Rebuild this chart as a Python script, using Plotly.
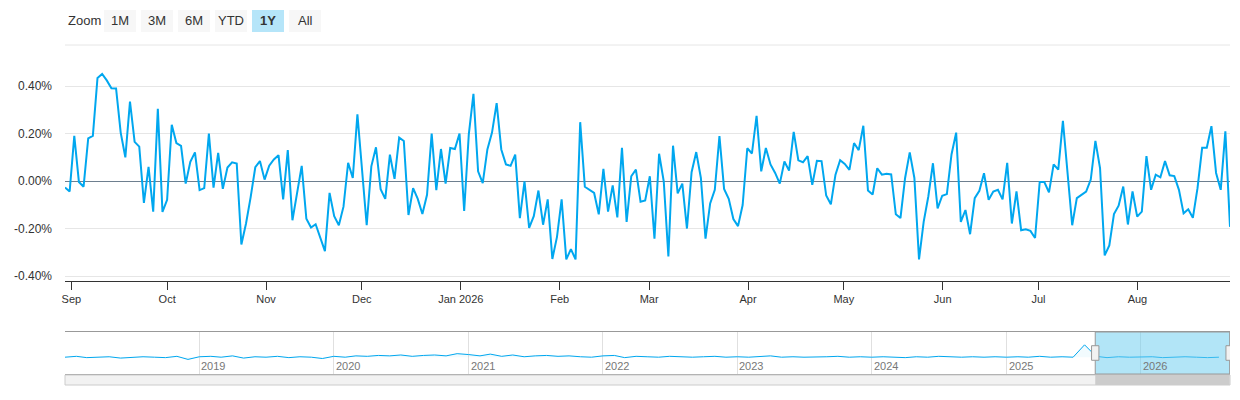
import plotly.graph_objects as go
import pandas as pd

# daily change (%), one year of trading days
values = [
    -0.027, -0.044, 0.19, -0.004, -0.024, 0.18, 0.19, 0.434, 0.451, 0.424, 0.391, 0.39,
    0.204, 0.10, 0.335, 0.165, 0.145, -0.092, 0.06, -0.129, 0.304, -0.13, -0.079, 0.237,
    0.16, 0.148, -0.011, 0.081, 0.121, -0.038, -0.03, 0.20, -0.028, 0.119, -0.033, 0.057,
    0.079, 0.074, -0.267, -0.179, -0.068, 0.058, 0.084, 0.006, 0.065, 0.091, 0.109, -0.077,
    0.13, -0.165, -0.051, 0.064, -0.159, -0.196, -0.182, -0.24, -0.295, -0.05, -0.148, -0.186,
    -0.108, 0.077, 0.013, 0.281,
    0.041, -0.186, 0.062, 0.142, -0.034, -0.075, 0.111, 0.009, 0.183, 0.169, -0.143, -0.03,
    -0.075, -0.139, -0.058, 0.20, -0.038, 0.135, -0.011, 0.139, 0.135, 0.20, -0.126, 0.197,
    0.367, 0.041, -0.009, 0.133, 0.204, 0.328, 0.133, 0.07, 0.064, 0.111, -0.156, -0.001,
    -0.197, -0.148, -0.04, -0.184, -0.077, -0.328, -0.235, -0.077, -0.33, -0.287, -0.33, 0.248,
    -0.024, -0.037, -0.05, -0.14, 0.051, -0.129, -0.018, -0.153, 0.14, -0.172, 0.02, 0.048,
    -0.087, -0.082, 0.02,
    -0.243, 0.115, -0.001, -0.318, 0.149, -0.052, -0.011, -0.2, 0.037, 0.122, 0.013, -0.243,
    -0.094, -0.037, 0.189, -0.033, -0.075, -0.16, -0.19, -0.101, 0.138, 0.116, 0.275, 0.041,
    0.139, 0.07, 0.034, -0.011, 0.082, 0.044, 0.207, 0.087, 0.079, 0.105, -0.016, 0.085,
    0.084, -0.061, -0.098, 0.027, 0.088, 0.072, 0.047, 0.16, 0.13, 0.233, -0.04, -0.057,
    0.054, 0.027, 0.031, 0.028, -0.14, -0.156, 0.013, 0.121, 0.013, -0.33, -0.172, -0.065,
    0.075, -0.115,
    -0.062, -0.055, 0.112, 0.204, -0.172, -0.122, -0.224, -0.072, -0.041, 0.033, -0.079, -0.044,
    -0.037, -0.077, 0.077, -0.179, -0.044, -0.207, -0.203, -0.21, -0.24, -0.004, -0.004, -0.048,
    0.07, 0.048, 0.254, 0.041, -0.186, -0.072, -0.058, -0.044, 0.006, 0.169, 0.055, -0.313,
    -0.271, -0.139, -0.104, -0.023, -0.183, -0.044, -0.15, -0.129, 0.105, -0.037, 0.027, 0.016,
    0.084, 0.024, 0.021, -0.037, -0.136, -0.119, -0.155, -0.03, 0.14, 0.14, 0.231, 0.034,
    -0.037, 0.209, -0.193,
]
dates = pd.date_range("2025-08-30", "2026-08-30", periods=len(values))

month_ticks = ["2025-09-01", "2025-10-01", "2025-11-01", "2025-12-01", "2026-01-01",
               "2026-02-01", "2026-03-01", "2026-04-01", "2026-05-01", "2026-06-01",
               "2026-07-01", "2026-08-01"]
month_labels = ["Sep", "Oct", "Nov", "Dec", "Jan 2026", "Feb", "Mar", "Apr", "May",
                "Jun", "Jul", "Aug"]

# navigator overview (rough monthly readings, %)
nav_dates = pd.date_range("2018-01-01", "2026-08-31", freq="MS")
nav_values = [
    0.0, 0.02, -0.01, 0.0, 0.01, -0.02, 0.0, 0.01, 0.0, -0.01, 0.02, -0.05,
    0.01, 0.02, 0.0, 0.03, -0.02, 0.01, 0.0, 0.02, -0.01, 0.01, 0.0, -0.03,
    0.02, 0.0, 0.03, 0.02, 0.04, 0.03, 0.05, 0.02, 0.04, 0.05, 0.03, 0.08,
    0.06, 0.03, 0.07, 0.02, 0.05, 0.01, 0.03, 0.04, 0.02, 0.03, 0.01, 0.0,
    0.03, 0.04, -0.01, 0.02, 0.01, 0.0, 0.02, 0.01, 0.0, 0.01, 0.02, 0.0,
    0.01, 0.0, 0.01, 0.03, 0.0, 0.01, 0.0, 0.0, 0.01, 0.02, 0.0, 0.01,
    0.0, 0.01, 0.0, -0.01, 0.01, 0.0, 0.02, 0.01, 0.0, 0.01, 0.0, 0.01,
    0.0, 0.01, 0.0, 0.02, 0.0, 0.01, 0.0, 0.28, 0.02, -0.01, 0.01, 0.0,
    0.0, 0.01, -0.01, 0.0, 0.01, 0.0, -0.01, 0.0,
]
nav_years = ["2019", "2020", "2021", "2022", "2023", "2024", "2025", "2026"]

zoom_buttons = ["1M", "3M", "6M", "YTD", "1Y", "All"]
active_button = "1Y"

W, H = 1240, 400
OFF = 8  # page body margin
def px(x): return (x - OFF) / W
def py(y): return 1 - (y - OFF) / H

blue = "#00a7ef"
fig = go.Figure()
fig.add_trace(go.Scatter(x=dates, y=values, mode="lines", line=dict(color=blue, width=2),
                         hoverinfo="x+y", showlegend=False))
fig.add_trace(go.Scatter(x=nav_dates, y=nav_values[:len(nav_dates)], mode="lines",
                         line=dict(color=blue, width=1), fill="tozeroy",
                         fillcolor="rgba(0,167,239,0.05)", xaxis="x2", yaxis="y2",
                         hoverinfo="skip", showlegend=False))

fig.update_layout(
    width=W, height=H, margin=dict(l=0, r=0, t=0, b=0),
    plot_bgcolor="white", paper_bgcolor="white",
    font=dict(family="Liberation Sans, Arial", size=12, color="#333"),
    xaxis=dict(domain=[px(65), px(1230)], range=[dates[0], dates[-1]], automargin=False,
               tickvals=month_ticks, ticktext=month_labels, showgrid=False,
               ticks="outside", ticklen=8, tickcolor="#333", showline=True,
               linecolor="#333", tickfont=dict(size=11, color="#333")),
    yaxis=dict(domain=[py(281), py(45)], range=[-0.421, 0.573], automargin=False,
               tickvals=[-0.4, -0.2, 0.0, 0.2, 0.4],
               ticktext=["-0.40%", "-0.20%", "0.00%", "0.20%", "0.40%"],
               gridcolor="#e6e6e6", zeroline=True, zerolinecolor="#6e7f8f",
               zerolinewidth=1, tickfont=dict(size=12, color="#333"), ticklabelstandoff=12),
    xaxis2=dict(domain=[px(65), px(1230)], anchor="y2", automargin=False,
                range=[nav_dates[0], pd.Timestamp("2026-08-31")], showticklabels=False,
                tickvals=[f"{y}-01-01" for y in nav_years], showgrid=True,
                gridcolor="#e0e0e0", showline=True, linecolor="#999", mirror=True),
    yaxis2=dict(domain=[py(374), py(332)], range=[-0.38, 0.57], automargin=False,
                showticklabels=False, showgrid=False, zeroline=False),
)

for y in nav_years:
    fig.add_annotation(x=f"{y}-01-01", y=-0.2, xref="x2", yref="y2", text=y,
                       showarrow=False, xanchor="left", font=dict(size=11, color="#777"))

# zoom buttons
fig.add_annotation(x=px(66), y=py(21), xref="paper", yref="paper", text="Zoom",
                   showarrow=False, xanchor="left", yanchor="middle",
                   font=dict(size=13, color="#333"))
for i, lab in enumerate(zoom_buttons):
    x0 = 104 + i * 37
    on = lab == active_button
    fig.add_shape(type="rect", xref="paper", yref="paper", x0=px(x0), x1=px(x0 + 32),
                  y0=py(32), y1=py(10), fillcolor="#b5e5f9" if on else "#f7f7f7",
                  line=dict(width=0), layer="below")
    fig.add_annotation(x=px(x0 + 16), y=py(21), xref="paper", yref="paper",
                       text=f"<b>{lab}</b>" if on else lab, showarrow=False,
                       xanchor="center", yanchor="middle", font=dict(size=13, color="#333"))

fig.add_shape(type="line", xref="paper", yref="paper", x0=px(65), x1=px(1230),
              y0=py(45), y1=py(45), line=dict(color="#e6e6e6", width=1))
# selected window in navigator
fig.add_shape(type="rect", xref="x2", yref="y2", x0=dates[0], x1=dates[-1], y0=-0.38, y1=0.57,
              fillcolor="rgba(102,204,240,0.5)", line=dict(color="#999", width=1))
for d in (dates[0], dates[-1]):
    fig.add_shape(type="rect", xref="x2", yref="y2", x0=d - pd.Timedelta(days=10),
                  x1=d + pd.Timedelta(days=10), y0=-0.07, y1=0.26,
                  fillcolor="#f2f2f2", line=dict(color="#999", width=1))
# scrollbar
fig.add_shape(type="rect", xref="paper", yref="paper", x0=px(65), x1=px(1230),
              y0=py(385), y1=py(375), fillcolor="#f2f2f2", line=dict(color="#ccc", width=1))
fig.add_shape(type="rect", xref="x2", yref="paper", x0=dates[0], x1=dates[-1],
              y0=py(385), y1=py(375), fillcolor="#cccccc", line=dict(width=0))

fig.write_html("out.html")
